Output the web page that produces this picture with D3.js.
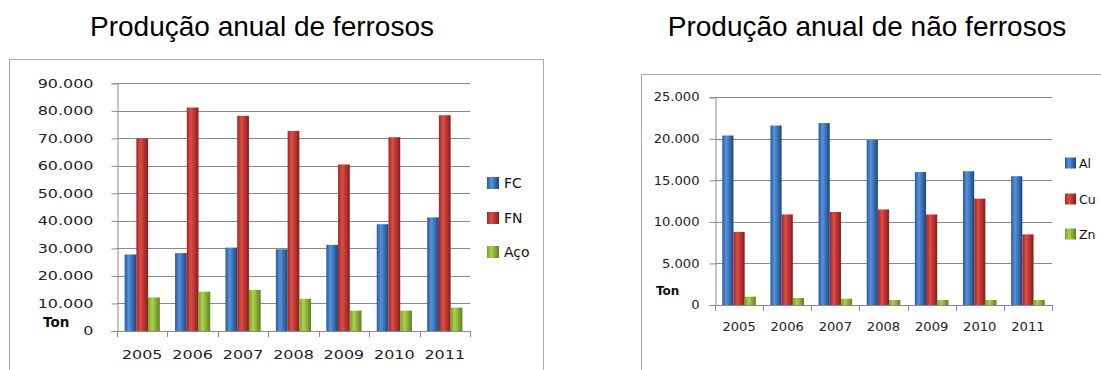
<!DOCTYPE html>
<html>
<head>
<meta charset="utf-8">
<script src="https://cdn.jsdelivr.net/npm/d3@7"></script>
<style>
  body { margin: 0; background: #fff; }
  svg { display: block; }
</style>
</head>
<body>
<div id="chart"></div>
<script>
var svgWidth = 1101;
var svgHeight = 370;

// data
var years = ["2005", "2006", "2007", "2008", "2009", "2010", "2011"];

var ferrososSeries = ["FC", "FN", "Aço"];
var fcValues = [27800, 28300, 30300, 29700, 31300, 38800, 41300];
var fnValues = [70000, 81200, 78200, 72700, 60500, 70400, 78400];
var acoValues = [12200, 14300, 14900, 11700, 7400, 7400, 8500];
var ferrososTicks = [0, 10000, 20000, 30000, 40000, 50000, 60000, 70000, 80000, 90000];

var naoFerrososSeries = ["Al", "Cu", "Zn"];
var alValues = [20400, 21600, 21900, 19900, 16000, 16100, 15500];
var cuValues = [8800, 10900, 11200, 11500, 10900, 12800, 8500];
var znValues = [1000, 850, 750, 600, 600, 600, 600];
var naoFerrososTicks = [0, 5000, 10000, 15000, 20000, 25000];

var colors = {
    blue: ["#28599a", "#5592dc", "#1c4680"],
    red: ["#a52623", "#dc4d47", "#8a1c1a"],
    green: ["#789f28", "#abd34c", "#5c821e"]
};

var svg = d3.select("#chart")
    .append("svg")
    .attr("width", svgWidth)
    .attr("height", svgHeight);

var defs = svg.append("defs");
Object.keys(colors).forEach(function(key) {
    var grad = defs.append("linearGradient")
        .attr("id", "grad-" + key)
        .attr("x1", "0%").attr("x2", "100%")
        .attr("y1", "0%").attr("y2", "0%");
    grad.append("stop").attr("offset", "0%").attr("stop-color", colors[key][0]);
    grad.append("stop").attr("offset", "35%").attr("stop-color", colors[key][1]);
    grad.append("stop").attr("offset", "100%").attr("stop-color", colors[key][2]);
});

var fmt = function(v) { return d3.format(",")(v).replace(/,/g, "."); };

function drawChart(opt) {
    var g = svg.append("g");

    // outer frame
    g.append("rect")
        .attr("x", opt.box[0] + 0.5)
        .attr("y", opt.box[1] + 0.5)
        .attr("width", opt.box[2])
        .attr("height", opt.box[3])
        .attr("fill", "none")
        .attr("stroke", "#a9a9a9");

    // title
    g.append("text")
        .attr("x", opt.titleX)
        .attr("y", 36)
        .attr("text-anchor", "middle")
        .style("font-family", "'Liberation Sans', Arial, sans-serif")
        .style("font-size", "28px")
        .attr("fill", "#000")
        .text(opt.title);

    var x0 = d3.scaleBand()
        .domain(years)
        .range([opt.left, opt.right])
        .padding(0);

    var x1 = d3.scaleBand()
        .domain(opt.series)
        .range([0, x0.bandwidth()])
        .paddingInner(0)
        .paddingOuter(0.65);

    var y = d3.scaleLinear()
        .domain([0, opt.ticks[opt.ticks.length - 1]])
        .range([opt.bottom, opt.top]);

    // gridlines
    g.append("g")
        .selectAll("line")
        .data(opt.ticks.slice(1))
        .enter()
        .append("line")
        .attr("x1", opt.left)
        .attr("x2", opt.right)
        .attr("y1", d => Math.round(y(d)) + 0.5)
        .attr("y2", d => Math.round(y(d)) + 0.5)
        .attr("stroke", "#8a8a8a")
        .attr("stroke-width", 1);

    // y axis
    var leftAxis = d3.axisLeft(y)
        .tickValues(opt.ticks)
        .tickSize(6)
        .tickPadding(opt.tickPad)
        .tickFormat(fmt);

    var yAxis = g.append("g")
        .attr("transform", `translate(${Math.round(opt.left) + 0.5}, 0)`)
        .call(leftAxis);
    yAxis.selectAll("text")
        .style("font-family", "'DejaVu Sans', Verdana, sans-serif")
        .style("font-size", opt.fontSize + "px")
        .attr("fill", "#222")
        .attr("transform", function() {
            var tx = -6 - opt.tickPad;
            return `translate(${tx},0) scale(${opt.stretch},1) translate(${-tx},0)`;
        });

    // bars
    var seriesData = opt.values;
    var groups = g.append("g")
        .selectAll("g")
        .data(years)
        .enter()
        .append("g")
        .attr("transform", d => `translate(${x0(d)}, 0)`);

    groups.selectAll("rect")
        .data((d, i) => opt.series.map((s, j) => ({ key: s, value: seriesData[j][i], color: opt.colors[j] })))
        .enter()
        .append("rect")
        .attr("x", d => x1(d.key))
        .attr("width", x1.bandwidth())
        .attr("y", d => y(d.value))
        .attr("height", d => y(0) - y(d.value))
        .attr("fill", d => "url(#grad-" + d.color + ")");

    // x axis line and ticks at category boundaries
    var xAxis = g.append("g");
    xAxis.append("line")
        .attr("x1", opt.left)
        .attr("x2", opt.right)
        .attr("y1", Math.round(opt.bottom) + 0.5)
        .attr("y2", Math.round(opt.bottom) + 0.5)
        .attr("stroke", "#8a8a8a");
    xAxis.selectAll("line.tick")
        .data(years.concat(["end"]))
        .enter()
        .append("line")
        .attr("class", "tick")
        .attr("x1", (d, i) => Math.round(opt.left + i * x0.step()) + 0.5)
        .attr("x2", (d, i) => Math.round(opt.left + i * x0.step()) + 0.5)
        .attr("y1", Math.round(opt.bottom))
        .attr("y2", Math.round(opt.bottom) + 6)
        .attr("stroke", "#8a8a8a");
    xAxis.selectAll("text")
        .data(years)
        .enter()
        .append("text")
        .attr("x", d => x0(d) + x0.bandwidth() / 2)
        .attr("y", opt.bottom + opt.xLabelDy)
        .attr("text-anchor", "middle")
        .style("font-family", "'DejaVu Sans', Verdana, sans-serif")
        .style("font-size", opt.fontSize + "px")
        .attr("fill", "#222")
        .attr("transform", d => {
            var cx = x0(d) + x0.bandwidth() / 2;
            return `translate(${cx},0) scale(${opt.stretch},1) translate(${-cx},0)`;
        })
        .text(d => d);

    // Ton label
    g.append("text")
        .attr("x", opt.tonX)
        .attr("y", opt.tonY)
        .style("font-family", "'DejaVu Sans', Verdana, sans-serif")
        .style("font-weight", "bold")
        .style("font-size", opt.tonSize + "px")
        .attr("fill", "#111")
        .text("Ton");

    // legend
    var legend = g.append("g")
        .selectAll("g")
        .data(opt.series)
        .enter()
        .append("g")
        .attr("transform", (d, i) => `translate(${opt.legendX}, ${opt.legendY[i]})`);
    legend.append("rect")
        .attr("x", 0)
        .attr("y", -opt.legendBox / 2)
        .attr("width", opt.legendBox)
        .attr("height", opt.legendBox)
        .attr("fill", (d, i) => "url(#grad-" + opt.colors[i] + ")");
    legend.append("text")
        .attr("x", opt.legendBox + opt.legendGap)
        .attr("y", 0)
        .attr("dy", "0.36em")
        .style("font-family", "'DejaVu Sans', Verdana, sans-serif")
        .style("font-size", opt.legendSize + "px")
        .attr("fill", "#111")
        .text(d => d);

    g.selectAll(".domain").attr("stroke", "#8a8a8a");
    g.selectAll(".tick line").attr("stroke", "#8a8a8a");
}

drawChart({
    title: "Produção anual de ferrosos",
    titleX: 262,
    box: [9, 59, 534, 330],
    left: 117, right: 470, top: 83.3, bottom: 331,
    series: ferrososSeries,
    values: [fcValues, fnValues, acoValues],
    colors: ["blue", "red", "green"],
    ticks: ferrososTicks,
    fontSize: 12, stretch: 1.33, tickPad: 18,
    xLabelDy: 28,
    tonX: 43, tonY: 327, tonSize: 13.5,
    legendX: 487, legendY: [183, 218, 252], legendBox: 12, legendGap: 5, legendSize: 14
});

drawChart({
    title: "Produção anual de não ferrosos",
    titleX: 867,
    box: [641, 74, 470, 330],
    left: 715, right: 1052, top: 97.3, bottom: 305,
    series: naoFerrososSeries,
    values: [alValues, cuValues, znValues],
    colors: ["blue", "red", "green"],
    ticks: naoFerrososTicks,
    fontSize: 11.5, stretch: 1.14, tickPad: 10,
    xLabelDy: 26,
    tonX: 656, tonY: 295, tonSize: 12,
    legendX: 1065, legendY: [163, 199, 234], legendBox: 11, legendGap: 3, legendSize: 12.5
});
</script>
</body>
</html>
